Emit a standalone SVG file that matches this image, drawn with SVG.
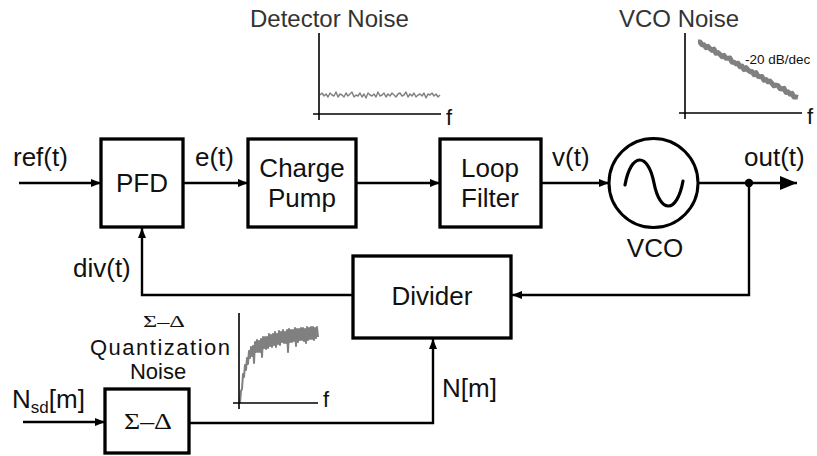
<svg xmlns="http://www.w3.org/2000/svg" width="817" height="456" viewBox="0 0 817 456">
<style>
text{font-family:"Liberation Sans",Arial,sans-serif;fill:#111}
text.serif{font-family:"Liberation Serif","Times New Roman",serif}
.lbl{font-size:26px}
.blk{fill:#fff;stroke:#000;stroke-width:3.3}
.wire{fill:none;stroke:#000;stroke-width:2.4}
.axis{fill:none;stroke:#000;stroke-width:1.6}
.noise{fill:none;stroke:#808080;stroke-linejoin:round}
.ttl{font-size:24px;fill:#333}
.f{font-size:22px}
</style>
<defs>
<marker id="ah" viewBox="0 0 10 8" refX="10" refY="4" markerWidth="10" markerHeight="8" markerUnits="userSpaceOnUse" orient="auto">
<path d="M0,0 L10,4 L0,8 Z" fill="#000"/>
</marker>
<marker id="ahbig" viewBox="0 0 17 14" refX="17" refY="7" markerWidth="17" markerHeight="14" markerUnits="userSpaceOnUse" orient="auto">
<path d="M0,0 L17,7 L0,14 Z" fill="#000"/>
</marker>
</defs>

<g id="connectors">
<line class="wire" x1="19" y1="183" x2="101" y2="183" marker-end="url(#ah)"/>
<line class="wire" x1="184" y1="183" x2="248" y2="183" marker-end="url(#ah)"/>
<line class="wire" x1="357" y1="183" x2="440" y2="183" marker-end="url(#ah)"/>
<line class="wire" x1="542" y1="183" x2="609" y2="183" marker-end="url(#ah)"/>
<line class="wire" x1="698" y1="183" x2="797" y2="183" marker-end="url(#ahbig)"/>
<circle cx="749" cy="183" r="4.2" fill="#000"/>
<polyline class="wire" points="749,183 749,295 512,295" marker-end="url(#ah)"/>
<polyline class="wire" points="353,295 142,295 142,228" marker-end="url(#ah)"/>
<line class="wire" x1="23" y1="422" x2="105" y2="422" marker-end="url(#ah)"/>
<polyline class="wire" points="190,423 433,423 433,339" marker-end="url(#ah)"/>
</g>

<g id="labels">
<text class="lbl" x="13" y="166">ref(t)</text>
<text class="lbl" x="195" y="166">e(t)</text>
<text class="lbl" x="552" y="166">v(t)</text>
<text class="lbl" x="744" y="166">out(t)</text>
<text class="lbl" x="73" y="277">div(t)</text>
<text class="lbl" x="442" y="397">N[m]</text>
<text class="lbl" x="12" y="408">N<tspan font-size="17" dy="5">sd</tspan><tspan dy="-5">[m]</tspan></text>
</g>

<g id="pfd">
<rect class="blk" x="101" y="139" width="82" height="88"/>
<text class="lbl" x="142" y="192" text-anchor="middle">PFD</text>
</g>

<g id="chargepump">
<rect class="blk" x="248" y="139" width="108" height="88"/>
<text class="lbl" x="302" y="177" text-anchor="middle">Charge</text>
<text class="lbl" x="302" y="207" text-anchor="middle">Pump</text>
</g>

<g id="loopfilter">
<rect class="blk" x="440" y="139" width="101" height="88"/>
<text class="lbl" x="490" y="177" text-anchor="middle">Loop</text>
<text class="lbl" x="490" y="207" text-anchor="middle">Filter</text>
</g>

<g id="vco">
<circle cx="653.5" cy="183" r="44.5" fill="#fff" stroke="#000" stroke-width="3"/>
<path d="M625,185 C631,152 648,152 654,183 C660,214 677,214 683,181" fill="none" stroke="#000" stroke-width="3.2" stroke-linecap="round"/>
<text class="lbl" x="655" y="257" text-anchor="middle">VCO</text>
</g>

<g id="divider">
<rect class="blk" x="353" y="256" width="158" height="82"/>
<text class="lbl" x="432" y="305" text-anchor="middle">Divider</text>
</g>

<g id="sigmadelta">
<rect class="blk" x="105" y="389" width="84" height="64"/>
<text class="serif" x="148" y="429" text-anchor="middle" font-size="24" textLength="48" lengthAdjust="spacingAndGlyphs">Σ–Δ</text>
</g>

<g id="detector-noise">
<text class="ttl" x="250" y="27">Detector Noise</text>
<polyline class="noise" stroke-width="1.4" points="320,95 322,93 324,96 326,94 328,97 330,93 332,95 334,96 336,92 338,97 340,94 342,95 344,97 346,93 348,96 350,94 352,92 354,97 356,95 358,96 360,93 362,97 364,94 366,98 368,93 370,95 372,96 374,94 376,97 378,92 380,96 382,95 384,93 386,97 388,94 390,96 392,93 394,95 396,97 398,94 400,93 402,96 404,95 406,92 408,97 410,94 412,96 414,93 416,97 418,95 420,94 422,96 424,93 426,98 428,94 430,95 432,93 434,96 436,94 438,97 440,95"/>
<polyline class="axis" points="319,33 319,120"/>
<polyline class="axis" points="313,114 441,114"/>
<text class="f" x="446" y="125">f</text>
</g>

<g id="vco-noise">
<text class="ttl" x="619" y="27">VCO Noise</text>
<polyline class="noise" stroke-width="5" points="698,42 700,41.9 702,44.8 704,44.8 706,47.7 708,46.4 710,48.7 712,50.4 714,49.2 716,53.3 718,52.6 720,54.3 722,56.6 724,55.4 726,58.3 728,58.2 730,58.1 732,62.2 734,62.2 736,63.9 738,63.2 740,66.7 742,66 744,69.6 746,67.7 748,70 750,71.7 752,71.6 754,74.6 756,72.7 758,76.2 760,76.7 762,76.6 764,80.2 766,79.5 768,81.8 770,81.1 772,83.4 774,85.8 776,85.1 778,85.6 780,88.5 782,89 784,88.4 786,92.5 788,91.8 790,94.1 792,93.4 794,97 796,96.9 798,97.4"/>
<text x="745" y="64" font-size="13.5" fill="#111">-20 dB/dec</text>
<polyline class="axis" points="685,33 685,119"/>
<polyline class="axis" points="679,113 802,113"/>
<text class="f" x="807" y="124">f</text>
</g>

<g id="quantization-noise">
<text class="serif" x="164" y="327" text-anchor="middle" font-size="17" fill="#333" textLength="42" lengthAdjust="spacingAndGlyphs">Σ–Δ</text>
<text x="160" y="355" text-anchor="middle" font-size="22" fill="#333" textLength="140">Quantization</text>
<text x="158" y="379" text-anchor="middle" font-size="22" fill="#333">Noise</text>
<polyline class="noise" stroke-width="2" points="240,403 241,391 242,389 243,374 244,377 245,365 246,370 247,358 248,364 249,351 250,358 251,347 252,356 253,346 254,363 255,342 256,352 257,340 258,352 259,341 260,352 261,339 262,357 263,337 264,348 265,337 266,349 267,337 268,348 269,334 270,346 271,335 272,347 273,334 274,345 275,332 276,347 277,334 278,344 279,331 280,345 281,332 282,342 283,330 284,343 285,332 286,343 287,330 288,352 289,329 290,342 291,330 292,342 293,330 294,341 295,328 296,346 297,329 298,342 299,329 300,340 301,328 302,340 303,328 304,341 305,329 306,343 307,327 308,340 309,328 310,339 311,327 312,339 313,327 314,340 315,328 316,338 317,327 318,337"/>
<polyline class="axis" points="239,313 239,409"/>
<polyline class="axis" points="233,403 318,403"/>
<text class="f" x="323" y="407">f</text>
</g>
</svg>
